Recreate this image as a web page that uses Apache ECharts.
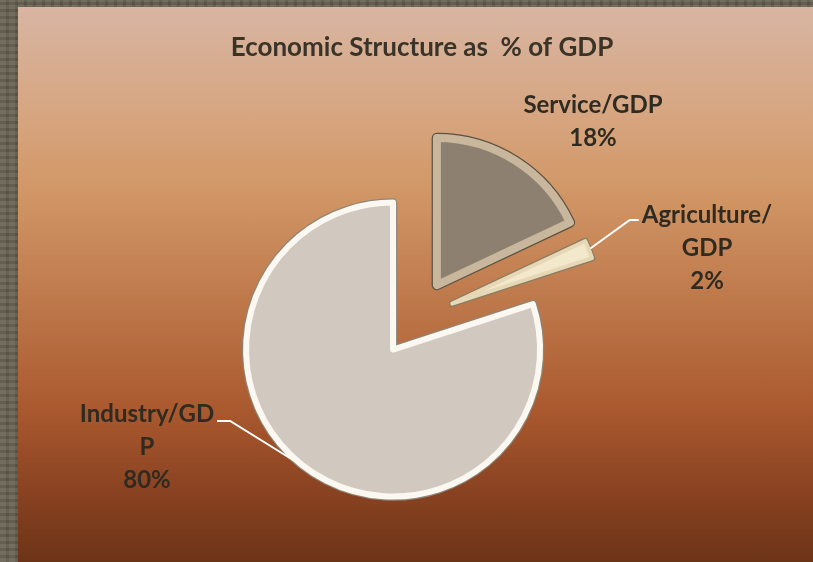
<!DOCTYPE html>
<html>
<head>
<meta charset="utf-8">
<script src="https://cdn.jsdelivr.net/npm/echarts@6/dist/echarts.min.js"></script>
<style>
  html, body { margin:0; padding:0; width:813px; height:562px; overflow:hidden; }
  body {
    background-color:#615c4b;
    background-image:
      repeating-linear-gradient(0deg, rgba(255,255,255,0.06) 0 4px, rgba(0,0,0,0.06) 4px 7px),
      repeating-linear-gradient(90deg, rgba(255,255,255,0.05) 0 6px, rgba(0,0,0,0.05) 6px 9px);
  }
  #bg {
    position:absolute; left:18px; top:7px; width:795px; height:555px;
    background: linear-gradient(to bottom, #d8b5a2 0%, #d6a57f 20%, #d29766 33%, #bf7a4c 52%, #ab5a2f 72%, #8c4422 86%, #6c3417 100%);
  }
  #chart { position:absolute; left:0; top:0; width:813px; height:562px; }
</style>
</head>
<body>
<div id="bg"></div>
<div id="chart"></div>
<script>
const categories = ['Service/GDP', 'Agriculture/GDP', 'Industry/GDP'];
const values = [18, 2, 80];
const labelTexts = ['Service/GDP', 'Agriculture/\nGDP', 'Industry/GD\nP'];

const fills    = ['#8d8071', '#f3e8cc', '#d1c9c0'];
const bevels   = ['#c8b79d', '#e6d8b6', '#fbf8f1'];
const outlines = ['#5c5242', '#8a7b62', '#8e8576'];
const bevelW   = [8, 4, 6];
const labelCenters = [[593, 122], [707, 248], [147, 447]];
const LINE_H = 33;
const CENTER = [416, 318];
const RADIUS = 147;
const EXPLODE = 39;
const START = 90;

const chart = echarts.init(document.getElementById('chart'), null, {renderer: 'canvas'});

const total = values.reduce((a, b) => a + b, 0);
let cum = 0;
const midAngles = values.map(v => {
  const m = START - (cum + v / 2) / total * 360;
  cum += v;
  return m * Math.PI / 180;
});

function labelLayoutFn(params) {
  const i = params.dataIndex;
  const c = labelCenters[i];
  const w = params.labelRect.width, h = params.labelRect.height;
  const res = { x: c[0], y: c[1], align: 'center', verticalAlign: 'middle' };
  const pts = params.labelLinePoints;
  if (pts && i !== 0) {
    const p0 = pts[0];
    let p2, p1;
    if (i === 1) {
      p2 = [c[0] - w / 2 - 3, c[1] - h / 2 + LINE_H / 2 + 5];
      p1 = [p2[0] - 9, p2[1]];
    } else {
      p2 = [c[0] + w / 2 + 3, c[1] - h / 2 + LINE_H / 2 + 7];
      p1 = [p2[0] + 13, p2[1]];
    }
    res.labelLinePoints = [p0, p1, p2];
  }
  return res;
}

const series = [];
[0, 1].forEach(layer => {
  categories.forEach((cat, k) => {
    const center = [
      CENTER[0] + EXPLODE * Math.cos(midAngles[k]),
      CENTER[1] - EXPLODE * Math.sin(midAngles[k])
    ];
    const data = categories.map((c, i) => {
      const on = i === k;
      const item = { name: c, value: values[i] };
      if (!on) {
        item.itemStyle = { color: 'rgba(0,0,0,0)', borderWidth: 0 };
        item.label = { show: false };
        item.labelLine = { show: false };
      } else {
        item.itemStyle = layer === 0
          ? { color: fills[i], borderColor: outlines[i], borderWidth: bevelW[i] + 2.5, borderJoin: 'round' }
          : { color: fills[i], borderColor: bevels[i], borderWidth: bevelW[i], borderJoin: 'round' };
        const showLabel = layer === 1;
        item.label = { show: showLabel };
        item.labelLine = { show: showLabel && i !== 0 };
      }
      return item;
    });
    series.push({
      type: 'pie',
      name: cat + '-' + layer,
      center: center,
      radius: RADIUS,
      startAngle: START,
      clockwise: true,
      avoidLabelOverlap: false,
      animation: false,
      silent: true,
      z: layer + 1,
      emphasis: { disabled: true },
      data: data,
      label: {
        position: 'outside',
        formatter: p => labelTexts[p.dataIndex] + '\n' + Math.round(p.percent) + '%',
        fontFamily: 'Lato',
        fontWeight: 'bold',
        fontSize: 24,
        lineHeight: LINE_H,
        color: '#2f2b22',
        align: 'center'
      },
      labelLine: { length: 20, length2: 10, lineStyle: { color: '#ffffff', width: 2 } },
      labelLayout: labelLayoutFn
    });
  });
});

const option = {
  backgroundColor: 'transparent',
  title: {
    text: 'Economic Structure as  % of GDP',
    left: 417,
    top: 30,
    textAlign: 'center',
    textStyle: { fontFamily: 'Lato', fontWeight: 'bold', fontSize: 26, color: '#3a3428' }
  },
  series: series
};
chart.setOption(option);
</script>
</body>
</html>
